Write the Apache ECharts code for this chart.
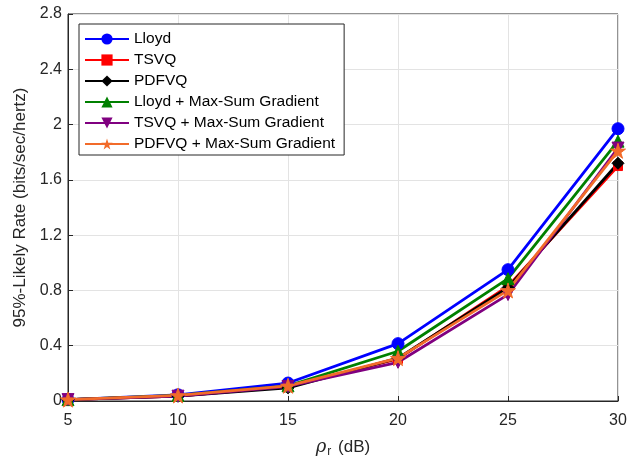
<!DOCTYPE html>
<html>
<head>
<meta charset="utf-8">
<script src="https://cdn.jsdelivr.net/npm/echarts@6/dist/echarts.min.js"></script>
<style>
  html, body { margin: 0; padding: 0; background: #fff; }
  #chart { width: 641px; height: 463px; }
</style>
</head>
<body>
<div id="chart"></div>
<script>
// SNR points (dB)
const snr = [5, 10, 15, 20, 25, 30];

// 95%-likely rate per quantizer (bits/sec/hertz)
const lloyd      = [0.01, 0.045, 0.13, 0.415, 0.95, 1.97];
const tsvq       = [0.01, 0.035, 0.105, 0.305, 0.83, 1.70];
const pdfvq      = [0.01, 0.035, 0.095, 0.31, 0.82, 1.72];
const lloydMSG   = [0.01, 0.04, 0.11, 0.36, 0.885, 1.88];
const tsvqMSG    = [0.01, 0.035, 0.105, 0.28, 0.77, 1.83];
const pdfvqMSG   = [0.01, 0.04, 0.11, 0.31, 0.80, 1.81];

const seriesNames = [
  'Lloyd', 'TSVQ', 'PDFVQ',
  'Lloyd + Max-Sum Gradient', 'TSVQ + Max-Sum Gradient', 'PDFVQ + Max-Sum Gradient'
];
const yTicks = { min: 0, max: 2.8, step: 0.4 };
const xTicks = { min: 5, max: 30, step: 5 };

const starPath = 'path://M50,0 L61,35 L98,35 L68,57 L79,91 L50,70 L21,91 L32,57 L2,35 L39,35 Z';

function pair(vals) { return snr.map((x, i) => [x, vals[i]]); }

function mk(name, vals, color, symbol, size, rotate) {
  return {
    name: name,
    type: 'line',
    data: pair(vals),
    symbol: symbol,
    symbolSize: size,
    symbolRotate: rotate || 0,
    showAllSymbol: true,
    lineStyle: { color: color, width: 2.8 },
    itemStyle: { color: color, borderColor: color },
    emphasis: { disabled: true },
    animation: false
  };
}

const font = 'Liberation Sans, Arial, Helvetica, sans-serif';
const ink = '#262626';
const chart = echarts.init(document.getElementById('chart'));
chart.setOption({
  backgroundColor: '#ffffff',
  animation: false,
  grid: {
    left: 68, right: 23, top: 14, bottom: 58,
    show: true, borderColor: ink, borderWidth: 1, backgroundColor: 'transparent'
  },
  legend: {
    orient: 'vertical',
    left: 79, top: 24,
    backgroundColor: '#ffffff',
    borderColor: ink, borderWidth: 1,
    padding: [7, 9, 3, 5],
    itemGap: 5,
    itemWidth: 44, itemHeight: 14,
    textStyle: { fontFamily: font, fontSize: 15.5, color: '#000' },
    data: seriesNames
  },
  xAxis: {
    type: 'value',
    min: xTicks.min, max: xTicks.max, interval: xTicks.step,
    name: '{rho|ρ}{sub|r} (dB)',
    nameLocation: 'middle',
    nameGap: 36,
    nameTextStyle: {
      fontFamily: font, fontSize: 17, color: ink,
      rich: {
        rho: { fontFamily: 'DejaVu Serif, serif', fontStyle: 'italic', fontSize: 18, color: ink },
        sub: { fontFamily: font, fontSize: 12, color: ink, verticalAlign: 'bottom', padding: [9, 2, 0, 1] }
      }
    },
    axisLine: { show: true, lineStyle: { color: ink, width: 1 } },
    axisTick: { show: true, inside: true, length: 5, lineStyle: { color: ink } },
    axisLabel: { fontFamily: font, fontSize: 16, color: ink, margin: 12 },
    splitLine: { show: true, lineStyle: { color: '#e3e3e3', width: 1 } }
  },
  yAxis: {
    type: 'value',
    min: yTicks.min, max: yTicks.max, interval: yTicks.step,
    name: '95%-Likely Rate (bits/sec/hertz)',
    nameLocation: 'middle',
    nameGap: 36,
    nameTextStyle: { fontFamily: font, fontSize: 17, color: ink },
    axisLine: { show: true, lineStyle: { color: ink, width: 1 } },
    axisTick: { show: true, inside: true, length: 5, lineStyle: { color: ink } },
    axisLabel: {
      fontFamily: font, fontSize: 16, color: ink, margin: 6,
      formatter: v => String(Math.round(v * 10) / 10)
    },
    splitLine: { show: true, lineStyle: { color: '#e3e3e3', width: 1 } }
  },
  series: [
    mk(seriesNames[0], lloyd, '#0000ff', 'circle', 12),
    mk(seriesNames[1], tsvq, '#ff0000', 'rect', 9),
    mk(seriesNames[2], pdfvq, '#000000', 'diamond', 12),
    mk(seriesNames[3], lloydMSG, '#008000', 'triangle', 12),
    mk(seriesNames[4], tsvqMSG, '#800080', 'triangle', 12, 180),
    mk(seriesNames[5], pdfvqMSG, '#f26b2a', starPath, 15)
  ]
});
</script>
</body>
</html>
